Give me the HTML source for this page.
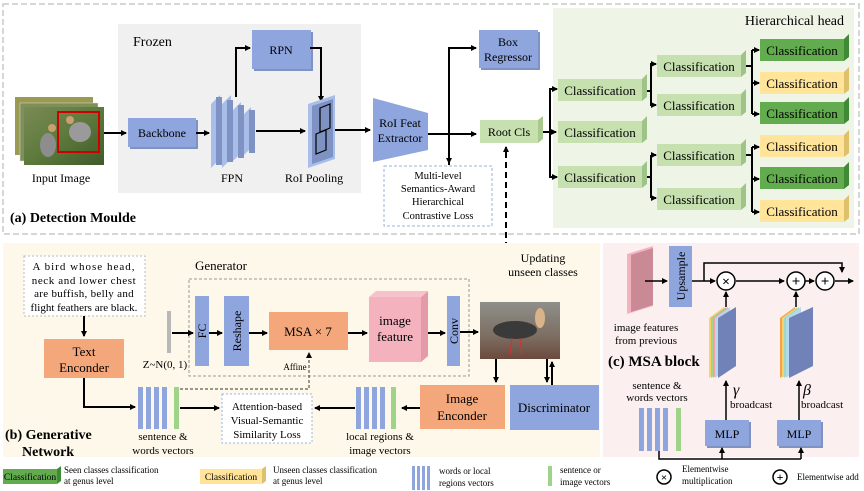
<!DOCTYPE html>
<html><head><meta charset="utf-8"><style>
html,body{margin:0;padding:0;background:#fff;}
svg{display:block;font-family:"Liberation Serif",serif;}
</style></head><body>
<svg width="864" height="491" viewBox="0 0 864 491" xmlns="http://www.w3.org/2000/svg">
<defs>
<marker id="ar" markerWidth="6" markerHeight="6" refX="5" refY="3" orient="auto" markerUnits="userSpaceOnUse"><path d="M0,0 L6,3 L0,6 z" fill="#000"/></marker>
<linearGradient id="photo" x1="0" y1="0" x2="1" y2="1"><stop offset="0" stop-color="#7a8a55"/><stop offset="0.5" stop-color="#5d7a3c"/><stop offset="1" stop-color="#3f5a2a"/></linearGradient>
<linearGradient id="bird" x1="0" y1="0" x2="0" y2="1"><stop offset="0" stop-color="#8f8f8a"/><stop offset="0.6" stop-color="#7d6e62"/><stop offset="1" stop-color="#6b4a3d"/></linearGradient>
</defs>

<rect x="3" y="4" width="856" height="230" fill="none" stroke="#c8c8c8" stroke-width="1.5" stroke-dasharray="6,3"/>
<rect x="118" y="24" width="243" height="169" fill="#f0f0f0"/>
<text x="133" y="46" font-size="14">Frozen</text>
<rect x="553" y="8" width="301" height="220" fill="#eef5e6"/>
<text x="844" y="25" font-size="14" text-anchor="end">Hierarchical head</text>

<rect x="15" y="97" width="78" height="58" fill="#9a9a50"/>
<rect x="20" y="103" width="78" height="58" fill="#7f8f5a" stroke="#ddd" stroke-width="0.5"/>
<rect x="24" y="107" width="80" height="58" fill="url(#photo)"/>
<ellipse cx="48" cy="145" rx="8" ry="12" fill="#8d8d8d"/>
<circle cx="52" cy="128" r="4" fill="#c9a070"/>
<ellipse cx="80" cy="132" rx="11" ry="10" fill="#9a9a9a"/>
<circle cx="70" cy="120" r="4" fill="#c9a070"/>
<rect x="58" y="112" width="41" height="40" fill="none" stroke="#d00000" stroke-width="2"/>
<text x="61" y="182" font-size="12" text-anchor="middle">Input Image</text>
<line x1="104" y1="133" x2="126" y2="133" stroke="#000" stroke-width="2" marker-end="url(#ar)"/>

<rect x="130" y="120" width="68" height="29" fill="#7f92c4"/>
<rect x="128" y="118" width="68" height="29" fill="#8ea5dd"/>
<text x="162" y="137" font-size="12" text-anchor="middle">Backbone</text>
<line x1="196" y1="133" x2="209" y2="133" stroke="#000" stroke-width="2" marker-end="url(#ar)"/>

<g>
<polygon points="211,104 220,95 220,159 211,168" fill="#a9bde9"/><rect x="216" y="97" width="6" height="68" fill="#7f92c4"/>
<polygon points="222,104 231,95 231,159 222,168" fill="#a9bde9"/><rect x="227" y="100" width="6" height="62" fill="#7f92c4"/>
<polygon points="233,110 241,102 241,153 233,161" fill="#a9bde9"/><rect x="238" y="105" width="6" height="53" fill="#7f92c4"/>
<polygon points="244,114 251,107 251,148 244,155" fill="#a9bde9"/><rect x="249" y="110" width="6" height="43" fill="#7f92c4"/>
</g>
<text x="232" y="182" font-size="12" text-anchor="middle">FPN</text>
<polyline points="236,97 236,48 250,48" fill="none" stroke="#000" stroke-width="2" marker-end="url(#ar)"/>
<rect x="254" y="32" width="59" height="39" fill="#7f92c4"/>
<rect x="252" y="30" width="59" height="39" fill="#8ea5dd"/>
<text x="281" y="54" font-size="12" text-anchor="middle">RPN</text>
<polyline points="310,48 321,48 321,101" fill="none" stroke="#000" stroke-width="2" marker-end="url(#ar)"/>
<line x1="256" y1="131" x2="305" y2="131" stroke="#000" stroke-width="2" marker-end="url(#ar)"/>
<polygon points="308,104 335,95 335,159 308,168" fill="#a9bde9"/>
<polygon points="312,106 333,99 333,157 312,164" fill="#7f92c4"/>
<path d="M320,108 L330,104 L330,128 L320,132 Z M316,134 L326,130 L326,150 L316,154 Z" fill="none" stroke="#000" stroke-width="1.2"/>
<text x="314" y="182" font-size="12" text-anchor="middle">RoI Pooling</text>
<line x1="335" y1="130" x2="370" y2="130" stroke="#000" stroke-width="2" marker-end="url(#ar)"/>
<polygon points="373,98 428,113 428,150 373,162" fill="#8ea5dd"/>
<text x="400" y="127" font-size="12" text-anchor="middle">RoI Feat</text>
<text x="400" y="142" font-size="12" text-anchor="middle">Extractor</text>
<line x1="428" y1="134" x2="476" y2="134" stroke="#000" stroke-width="2" marker-end="url(#ar)"/>
<polyline points="449,165 449,48 476,48" fill="none" stroke="#000" stroke-width="2" marker-end="url(#ar)"/>
<line x1="449" y1="134" x2="449" y2="163" stroke="#000" stroke-width="2" marker-end="url(#ar)"/>
<rect x="481" y="32" width="59" height="38" fill="#7f92c4"/>
<rect x="479" y="30" width="59" height="38" fill="#8ea5dd"/>
<text x="508" y="46" font-size="12" text-anchor="middle">Box</text>
<text x="508" y="61" font-size="12" text-anchor="middle">Regressor</text>
<polygon points="538,120 543,116 543,139 538,143" fill="#a8c98e"/>
<rect x="480" y="120" width="58" height="23" fill="#c6e0b0"/>
<text x="509" y="136" font-size="12" text-anchor="middle">Root Cls</text>
<rect x="384" y="166" width="108" height="60" fill="#fff" stroke="#9bb3e0" stroke-width="1" stroke-dasharray="3,2"/>
<g font-size="10.5" text-anchor="middle">
<text x="438" y="179">Multi-level</text><text x="438" y="192">Semantics-Award</text><text x="438" y="205">Hierarchical</text><text x="438" y="219">Contrastive Loss</text></g>
<text x="10" y="222" font-size="14" font-weight="bold">(a) Detection Moulde</text>
<line x1="506" y1="298" x2="506" y2="147" stroke="#000" stroke-width="2" stroke-dasharray="6,4" marker-end="url(#ar)"/>

<g stroke="#000" stroke-width="2" fill="none">
<line x1="543" y1="132" x2="556" y2="132" marker-end="url(#ar)"/>
<polyline points="556,89 550,89 550,177 556,177"/>
<line x1="550" y1="89" x2="557" y2="89" marker-end="url(#ar)"/>
<line x1="550" y1="177" x2="557" y2="177" marker-end="url(#ar)"/>
<polyline points="647,91 651,91"/>
<polyline points="656,64 651,64 651,105 656,105"/>
<line x1="651" y1="64" x2="656" y2="64" marker-end="url(#ar)"/>
<line x1="651" y1="105" x2="656" y2="105" marker-end="url(#ar)"/>
<polyline points="647,177 651,177"/>
<polyline points="651,155 651,198"/>
<line x1="651" y1="155" x2="656" y2="155" marker-end="url(#ar)"/>
<line x1="651" y1="198" x2="656" y2="198" marker-end="url(#ar)"/>
<polyline points="746,66 752,66"/>
<polyline points="752,50 752,114"/>
<line x1="752" y1="50" x2="759" y2="50" marker-end="url(#ar)"/>
<line x1="752" y1="83" x2="759" y2="83" marker-end="url(#ar)"/>
<line x1="752" y1="114" x2="759" y2="114" marker-end="url(#ar)"/>
<polyline points="746,155 752,155"/>
<polyline points="752,147 752,212"/>
<line x1="752" y1="147" x2="759" y2="147" marker-end="url(#ar)"/>
<line x1="752" y1="179" x2="759" y2="179" marker-end="url(#ar)"/>
<line x1="752" y1="212" x2="759" y2="212" marker-end="url(#ar)"/>
</g>
<g font-size="13" text-anchor="middle">
<polygon points="642,79 647,74 647,97 642,101" fill="#9fc488"/><rect x="558" y="79" width="84" height="22" fill="#c6e0b0"/><text x="600" y="95">Classification</text>
<polygon points="642,121 647,116 647,139 642,143" fill="#9fc488"/><rect x="558" y="121" width="84" height="22" fill="#c6e0b0"/><text x="600" y="137">Classification</text>
<polygon points="642,166 647,161 647,184 642,188" fill="#9fc488"/><rect x="558" y="166" width="84" height="22" fill="#c6e0b0"/><text x="600" y="182">Classification</text>
<polygon points="741,55 746,50 746,73 741,77" fill="#9fc488"/><rect x="657" y="55" width="84" height="22" fill="#c6e0b0"/><text x="699" y="71">Classification</text>
<polygon points="741,94 746,89 746,112 741,116" fill="#9fc488"/><rect x="657" y="94" width="84" height="22" fill="#c6e0b0"/><text x="699" y="110">Classification</text>
<polygon points="741,144 746,139 746,162 741,166" fill="#9fc488"/><rect x="657" y="144" width="84" height="22" fill="#c6e0b0"/><text x="699" y="160">Classification</text>
<polygon points="741,188 746,183 746,206 741,210" fill="#9fc488"/><rect x="657" y="188" width="84" height="22" fill="#c6e0b0"/><text x="699" y="204">Classification</text>
<polygon points="844,39 849,34 849,57 844,61" fill="#3f8a32"/><rect x="760" y="39" width="84" height="22" fill="#62ab4e"/><text x="802" y="55">Classification</text>
<polygon points="844,72 849,67 849,90 844,94" fill="#e0c06a"/><rect x="760" y="72" width="84" height="22" fill="#ffe49a"/><text x="802" y="88">Classification</text>
<polygon points="844,102 849,97 849,120 844,124" fill="#3f8a32"/><rect x="760" y="102" width="84" height="22" fill="#62ab4e"/><text x="802" y="118">Classification</text>
<polygon points="844,135 849,130 849,153 844,157" fill="#e0c06a"/><rect x="760" y="135" width="84" height="22" fill="#ffe49a"/><text x="802" y="151">Classification</text>
<polygon points="844,167 849,162 849,185 844,189" fill="#3f8a32"/><rect x="760" y="167" width="84" height="22" fill="#62ab4e"/><text x="802" y="183">Classification</text>
<polygon points="844,200 849,195 849,218 844,222" fill="#e0c06a"/><rect x="760" y="200" width="84" height="22" fill="#ffe49a"/><text x="802" y="216">Classification</text>
</g>

<rect x="3" y="243" width="597" height="214" fill="#fdf8ea"/>
<rect x="24" y="256" width="121" height="60" fill="#fff" stroke="#bbb" stroke-dasharray="2,2"/>
<g font-size="11" text-anchor="middle">
<text x="84" y="270" letter-spacing="1">A bird whose head,</text>
<text x="84" y="284" letter-spacing="0.6">neck and lower chest</text>
<text x="84" y="297" letter-spacing="0.3">are buffish,  belly and</text>
<text x="84" y="311">flight feathers are black.</text></g>
<line x1="84" y1="316" x2="84" y2="336" stroke="#000" stroke-width="2" marker-end="url(#ar)"/>
<rect x="44" y="339" width="80" height="39" fill="#f4a77a"/>
<text x="84" y="356" font-size="13" text-anchor="middle">Text</text>
<text x="84" y="372" font-size="13" text-anchor="middle">Enconder</text>
<polyline points="84,378 84,407 135,407" fill="none" stroke="#000" stroke-width="2" marker-end="url(#ar)"/>

<text x="195" y="270" font-size="13">Generator</text>
<rect x="189" y="279" width="280" height="97" fill="none" stroke="#999" stroke-dasharray="3,2"/>
<rect x="167" y="311" width="4" height="42" fill="#b8b8b8"/>
<text x="165" y="368" font-size="11" text-anchor="middle">Z~N(0, 1)</text>
<line x1="172" y1="333" x2="193" y2="333" stroke="#000" stroke-width="2" marker-end="url(#ar)"/>
<rect x="195" y="296" width="14" height="70" fill="#8ea5dd"/>
<text transform="translate(206,331) rotate(-90)" font-size="12" text-anchor="middle">FC</text>
<line x1="209" y1="333" x2="222" y2="333" stroke="#000" stroke-width="2" marker-end="url(#ar)"/>
<rect x="224" y="296" width="25" height="70" fill="#8ea5dd"/>
<text transform="translate(241,331) rotate(-90)" font-size="12" text-anchor="middle">Reshape</text>
<line x1="249" y1="333" x2="267" y2="333" stroke="#000" stroke-width="2" marker-end="url(#ar)"/>
<rect x="269" y="312" width="79" height="38" fill="#f4a77a"/>
<text x="308" y="336" font-size="13" text-anchor="middle">MSA × 7</text>
<line x1="348" y1="333" x2="367" y2="333" stroke="#000" stroke-width="2" marker-end="url(#ar)"/>
<polygon points="421,297 428,291 428,356 421,362" fill="#e59aaa"/>
<polygon points="369,297 376,291 428,291 421,297" fill="#f6c3cc"/>
<rect x="369" y="297" width="52" height="65" fill="#f4b2bf"/>
<text x="395" y="325" font-size="13" text-anchor="middle">image</text>
<text x="395" y="341" font-size="13" text-anchor="middle">feature</text>
<line x1="428" y1="333" x2="445" y2="333" stroke="#000" stroke-width="2" marker-end="url(#ar)"/>
<rect x="447" y="296" width="13" height="70" fill="#8ea5dd"/>
<text transform="translate(458,331) rotate(-90)" font-size="12" text-anchor="middle">Conv</text>
<line x1="460" y1="332" x2="478" y2="332" stroke="#000" stroke-width="2" marker-end="url(#ar)"/>
<rect x="480" y="302" width="80" height="57" fill="url(#bird)"/>
<ellipse cx="515" cy="330" rx="22" ry="9" fill="#3a3a3a"/>
<ellipse cx="540" cy="318" rx="5" ry="10" fill="#d9b48a"/>
<line x1="512" y1="338" x2="510" y2="355" stroke="#c33" stroke-width="1.2"/>
<line x1="520" y1="338" x2="522" y2="355" stroke="#c33" stroke-width="1.2"/>
<text x="543" y="262" font-size="12" text-anchor="middle">Updating</text>
<text x="543" y="276" font-size="12" text-anchor="middle">unseen classes</text>
<line x1="496" y1="359" x2="496" y2="382" stroke="#000" stroke-width="2" marker-end="url(#ar)"/>
<line x1="547" y1="359" x2="547" y2="382" stroke="#000" stroke-width="2" marker-end="url(#ar)"/>
<line x1="552" y1="385" x2="552" y2="362" stroke="#000" stroke-width="2" marker-end="url(#ar)"/>
<rect x="420" y="385" width="85" height="44" fill="#f4a77a"/>
<text x="462" y="403" font-size="13" text-anchor="middle">Image</text>
<text x="462" y="420" font-size="13" text-anchor="middle">Enconder</text>
<rect x="510" y="385" width="89" height="45" fill="#8ea5dd"/>
<text x="554" y="412" font-size="13" text-anchor="middle">Discriminator</text>
<line x1="420" y1="408" x2="402" y2="408" stroke="#000" stroke-width="2" marker-end="url(#ar)"/>
<g fill="#8ea5dd"><rect x="356" y="387" width="5" height="42"/><rect x="364" y="387" width="5" height="42"/><rect x="372" y="387" width="5" height="42"/><rect x="380" y="387" width="5" height="42"/></g>
<rect x="391" y="387" width="5" height="42" fill="#9fd38a"/>
<text x="380" y="440" font-size="11" text-anchor="middle">local regions &amp;</text>
<text x="380" y="454" font-size="11" text-anchor="middle">image vectors</text>
<line x1="355" y1="408" x2="315" y2="408" stroke="#000" stroke-width="2" marker-end="url(#ar)"/>
<rect x="222" y="394" width="90" height="49" fill="#fff" stroke="#9bb3e0" stroke-dasharray="2,2"/>
<g font-size="11" text-anchor="middle"><text x="267" y="410">Attention-based</text><text x="267" y="424">Visual-Semantic</text><text x="267" y="438">Similarity Loss</text></g>
<g fill="#8ea5dd"><rect x="138" y="387" width="5" height="42"/><rect x="146" y="387" width="5" height="42"/><rect x="154" y="387" width="5" height="42"/><rect x="162" y="387" width="5" height="42"/></g>
<rect x="174" y="387" width="5" height="42" fill="#9fd38a"/>
<line x1="180" y1="408" x2="219" y2="408" stroke="#000" stroke-width="2" marker-end="url(#ar)"/>
<text x="163" y="440" font-size="11" text-anchor="middle">sentence &amp;</text>
<text x="163" y="454" font-size="11" text-anchor="middle">words vectors</text>
<polyline points="180,389 309,389 309,353" fill="none" stroke="#333" stroke-width="1" stroke-dasharray="3,2" marker-end="url(#ar)"/>
<text x="295" y="370" font-size="9" text-anchor="middle">Affine</text>
<text x="5" y="439" font-size="14" font-weight="bold">(b) Generative</text>
<text x="22" y="456" font-size="14" font-weight="bold">Network</text>

<rect x="603" y="243" width="256" height="214" fill="#fbefef"/>
<polygon points="627,254 653,246 653,306 627,314" fill="#f4b2bf"/>
<polygon points="631,255 653,248 653,305 631,312" fill="#c98a96"/>
<line x1="645" y1="281" x2="667" y2="281" stroke="#000" stroke-width="1.5" marker-end="url(#ar)"/>
<rect x="669" y="246" width="23" height="61" fill="#8ea5dd"/>
<text transform="translate(685,276) rotate(-90)" font-size="12" text-anchor="middle">Upsample</text>
<text x="646" y="331" font-size="11" text-anchor="middle">image features</text>
<text x="646" y="344" font-size="11" text-anchor="middle">from previous</text>
<g stroke="#000" stroke-width="1.5" fill="none">
<line x1="692" y1="281" x2="715" y2="281" marker-end="url(#ar)"/>
<polyline points="704,281 704,263 842,263 842,272" marker-end="url(#ar)"/>
<line x1="736" y1="281" x2="784" y2="281" marker-end="url(#ar)"/>
<line x1="805" y1="281" x2="814" y2="281" marker-end="url(#ar)"/>
<line x1="835" y1="281" x2="853" y2="281" marker-end="url(#ar)"/>
<circle cx="726" cy="281" r="9" fill="#fff"/>
<circle cx="796" cy="281" r="9" fill="#fff"/>
<circle cx="825" cy="281" r="9" fill="#fff"/>
<line x1="726" y1="307" x2="726" y2="292" marker-end="url(#ar)"/>
<line x1="796" y1="307" x2="796" y2="292" marker-end="url(#ar)"/>
</g>
<text x="726" y="286" font-size="14" font-weight="bold" text-anchor="middle">×</text>
<text x="796" y="286" font-size="15" font-weight="bold" text-anchor="middle">+</text>
<text x="825" y="286" font-size="15" font-weight="bold" text-anchor="middle">+</text>
<g>
<polygon points="709,318 724,307 724,366 709,378" fill="#f5d36a"/>
<polygon points="711,318 726,307 726,366 711,378" fill="#9fd38a"/>
<polygon points="713,318 728,307 728,366 713,378" fill="#f4a0a0"/>
<polygon points="715,318 730,307 730,366 715,378" fill="#b4d8f0"/>
<polygon points="718,318 736,307 736,366 718,378" fill="#7182b8"/>
<polygon points="780,318 795,307 795,366 780,378" fill="#f5a04a"/>
<polygon points="782,318 797,307 797,366 782,378" fill="#f5d36a"/>
<polygon points="784,318 799,307 799,366 784,378" fill="#9fd8c0"/>
<polygon points="786,318 801,307 801,366 786,378" fill="#b4d8f0"/>
<polygon points="789,318 813,307 813,366 789,378" fill="#7182b8"/>
</g>
<text x="608" y="366" font-size="15" font-weight="bold">(c) MSA block</text>
<text x="657" y="389" font-size="11" text-anchor="middle">sentence &amp;</text>
<text x="657" y="401" font-size="11" text-anchor="middle">words vectors</text>
<g fill="#8ea5dd"><rect x="639" y="408" width="5" height="43"/><rect x="647" y="408" width="5" height="43"/><rect x="655" y="408" width="5" height="43"/><rect x="663" y="408" width="5" height="43"/></g>
<rect x="676" y="408" width="5" height="43" fill="#9fd38a"/>
<line x1="726" y1="420" x2="726" y2="381" stroke="#000" stroke-width="1.5" marker-end="url(#ar)"/>
<line x1="799" y1="420" x2="799" y2="381" stroke="#000" stroke-width="1.5" marker-end="url(#ar)"/>
<text x="733" y="395" font-size="16" font-style="italic">γ</text>
<text x="730" y="408" font-size="11">broadcast</text>
<text x="803" y="395" font-size="16" font-style="italic">β</text>
<text x="801" y="408" font-size="11">broadcast</text>
<rect x="707" y="422" width="44" height="26" fill="#7f92c4"/><rect x="705" y="420" width="44" height="26" fill="#8ea5dd"/>
<text x="727" y="438" font-size="12" text-anchor="middle">MLP</text>
<rect x="779" y="422" width="44" height="26" fill="#7f92c4"/><rect x="777" y="420" width="44" height="26" fill="#8ea5dd"/>
<text x="799" y="438" font-size="12" text-anchor="middle">MLP</text>
<polyline points="659,451 659,459 801,459" fill="none" stroke="#000" stroke-width="1.5"/>
<line x1="722" y1="459" x2="722" y2="448" stroke="#000" stroke-width="1.5" marker-end="url(#ar)"/>
<line x1="801" y1="459" x2="801" y2="448" stroke="#000" stroke-width="1.5" marker-end="url(#ar)"/>

<polygon points="57,469 61,466 61,481 57,484" fill="#3f8a32"/>
<rect x="3" y="469" width="54" height="15" fill="#62ab4e"/>
<text x="30" y="480" font-size="9.5" text-anchor="middle">Classification</text>
<text x="64" y="473" font-size="9">Seen classes classification</text>
<text x="64" y="484" font-size="9">at genus level</text>
<polygon points="262,469 266,466 266,481 262,484" fill="#e0c06a"/>
<rect x="200" y="469" width="62" height="15" fill="#ffe49a"/>
<text x="231" y="480" font-size="9.5" text-anchor="middle">Classification</text>
<text x="273" y="473" font-size="9">Unseen classes classification</text>
<text x="273" y="484" font-size="9">at genus level</text>
<g fill="#8ea5dd"><rect x="412" y="466" width="3" height="24"/><rect x="417" y="466" width="3" height="24"/><rect x="422" y="466" width="3" height="24"/><rect x="427" y="466" width="3" height="24"/></g>
<text x="439" y="474" font-size="9">words or local</text>
<text x="439" y="486" font-size="9">regions vectors</text>
<rect x="548" y="466" width="4" height="20" fill="#9fd38a"/>
<text x="560" y="473" font-size="9">sentence or</text>
<text x="560" y="485" font-size="9">image  vectors</text>
<circle cx="664" cy="477" r="7" fill="#fff" stroke="#000" stroke-width="1.5"/>
<text x="664" y="481" font-size="11" font-weight="bold" text-anchor="middle">×</text>
<text x="682" y="472" font-size="9">Elementwise</text>
<text x="682" y="484" font-size="9">multiplication</text>
<circle cx="780" cy="477" r="7" fill="#fff" stroke="#000" stroke-width="1.5"/>
<text x="780" y="481" font-size="12" font-weight="bold" text-anchor="middle">+</text>
<text x="797" y="480" font-size="9">Elementwise add</text>
</svg>
</body></html>
